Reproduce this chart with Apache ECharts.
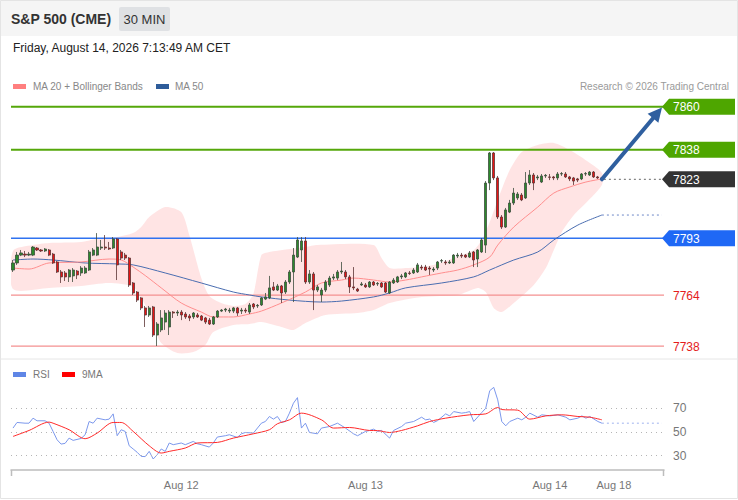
<!DOCTYPE html>
<html>
<head>
<meta charset="utf-8">
<script src="https://cdn.jsdelivr.net/npm/echarts@6/dist/echarts.min.js"></script>
<style>
html,body{margin:0;padding:0;background:#fff;}
#chart{width:738px;height:500px;}
</style>
</head>
<body>
<div id="chart"></div>
<script>
// ---------- DATA ----------
const slotCount = 163; // 30-minute slots incl. empty future area
const dateLabelIndex = [42, 88, 134, 150];
const dateLabelText = ['Aug 12', 'Aug 13', 'Aug 14', 'Aug 18'];

const openP = [7776.8,7780.4,7784.4,7784.9,7784.4,7784.4,7788.0,7787.0,7786.5,7787.0,
7784.9,7780.9,7775.8,7775.3,7773.3,7773.8,7776.3,7775.3,7775.3,7776.8,
7784.4,7784.4,7788.0,7788.5,7788.0,7788.0,7792.6,7786.0,7784.4,7782.9,
7770.2,7765.6,7762.6,7757.5,7753.9,7758.0,7743.7,7746.3,7750.3,7747.8,
7755.4,7754.9,7755.4,7754.4,7753.4,7752.9,7753.9,7753.4,7752.4,7751.3,
7749.3,7752.9,7755.9,7756.4,7755.9,7755.9,7757.5,7755.9,7756.4,7755.4,
7759.5,7758.5,7759.0,7762.0,7762.6,7768.2,7766.6,7768.7,7765.6,7770.7,
7775.8,7783.4,7787.0,7791.6,7770.7,7774.8,7766.6,7764.1,7766.6,7769.2,
7772.7,7772.7,7775.8,7775.8,7773.3,7768.2,7767.1,7769.2,7769.2,7768.2,
7770.7,7769.7,7770.2,7770.2,7765.1,7770.2,7770.7,7773.3,7773.3,7775.3,
7775.3,7775.8,7778.3,7778.3,7777.8,7776.8,7777.8,7781.4,7780.9,7780.4,
7780.4,7783.9,7784.4,7784.4,7783.4,7786.0,7782.4,7786.0,7789.5,7821.1,
7836.4,7823.7,7803.8,7798.7,7806.3,7810.9,7813.5,7815.0,7813.5,7821.1,
7825.2,7823.7,7821.6,7824.7,7824.2,7824.2,7823.7,7825.7,7825.7,7824.2,
7823.7,7823.2,7823.2,7825.7,7825.2,7826.7,7824.2,7823.7];
const closeP = [7780.4,7784.4,7785.5,7784.4,7784.9,7788.5,7787.0,7786.5,7787.5,7784.4,
7780.4,7775.8,7773.3,7773.3,7776.8,7776.8,7774.3,7777.8,7777.8,7786.0,
7787.0,7788.5,7788.5,7788.0,7787.5,7792.6,7779.4,7782.9,7782.9,7769.2,
7765.1,7761.5,7757.5,7753.9,7757.5,7743.7,7749.3,7752.4,7754.9,7755.4,
7754.9,7755.4,7753.9,7752.9,7752.4,7754.9,7752.9,7751.3,7750.3,7749.3,
7752.9,7755.9,7756.4,7756.9,7756.4,7757.5,7754.9,7756.4,7755.9,7759.0,
7758.0,7758.8,7762.6,7763.1,7767.7,7766.6,7768.7,7765.1,7770.7,7775.8,
7784.4,7792.1,7791.6,7770.7,7774.8,7766.6,7768.2,7766.6,7770.7,7772.7,
7773.3,7775.8,7776.3,7773.3,7768.2,7767.7,7766.1,7769.7,7768.2,7770.7,
7769.2,7770.0,7768.2,7765.6,7770.7,7771.7,7773.3,7773.8,7775.3,7775.0,
7776.8,7779.4,7777.8,7776.8,7777.3,7777.3,7780.9,7781.6,7780.4,7780.9,
7784.4,7784.4,7783.9,7783.4,7785.5,7781.9,7787.0,7792.1,7821.1,7836.4,
7823.7,7803.8,7798.7,7807.4,7810.9,7816.0,7815.5,7812.5,7821.1,7825.2,
7821.1,7824.2,7824.7,7825.0,7824.0,7823.7,7825.7,7825.9,7824.2,7823.2,
7822.1,7822.6,7825.7,7825.9,7826.7,7824.2,7823.7,7823.0];
const highP = [7781.9,7786.0,7787.0,7786.5,7786.0,7789.0,7788.5,7787.5,7788.0,7787.5,
7785.5,7781.4,7776.8,7776.3,7777.3,7777.8,7776.8,7778.8,7778.8,7787.0,
7788.0,7795.6,7792.1,7794.6,7791.1,7793.6,7793.1,7787.0,7785.5,7783.4,
7770.7,7766.1,7763.1,7758.5,7758.5,7758.5,7750.3,7756.4,7756.4,7756.4,
7755.9,7756.4,7756.4,7755.4,7754.4,7755.4,7754.9,7753.9,7752.9,7752.4,
7753.4,7756.4,7756.9,7757.5,7757.5,7758.0,7758.0,7757.5,7757.5,7760.0,
7760.0,7759.5,7763.1,7765.1,7773.8,7770.7,7769.7,7769.2,7771.7,7776.8,
7788.0,7793.6,7793.6,7793.6,7776.8,7775.8,7769.2,7767.7,7771.7,7773.8,
7774.8,7776.8,7780.9,7776.8,7774.3,7778.3,7767.7,7770.7,7770.2,7771.2,
7771.2,7770.7,7770.7,7770.7,7771.2,7772.7,7773.8,7774.8,7775.8,7776.3,
7777.8,7780.4,7779.4,7779.4,7778.8,7778.3,7781.4,7782.4,7781.9,7781.9,
7784.9,7785.5,7785.5,7784.9,7786.5,7786.5,7787.5,7793.1,7822.1,7836.9,
7836.9,7824.7,7804.8,7808.4,7812.5,7818.6,7816.5,7816.0,7826.7,7827.7,
7826.2,7825.2,7825.7,7825.7,7825.7,7824.7,7826.7,7826.7,7826.7,7824.7,
7824.2,7823.7,7826.2,7826.7,7827.2,7827.2,7824.7,7824.2];
const lowP = [7775.8,7779.4,7783.9,7783.4,7783.9,7783.9,7786.5,7786.0,7786.0,7783.9,
7779.9,7775.3,7770.2,7771.2,7770.7,7770.7,7772.2,7773.8,7774.8,7776.3,
7783.9,7783.9,7787.0,7787.0,7787.0,7787.5,7771.7,7781.9,7781.9,7768.2,
7764.1,7760.5,7756.4,7747.8,7752.9,7742.7,7738.1,7745.2,7746.3,7743.7,
7752.4,7753.4,7751.3,7751.9,7750.8,7751.9,7752.4,7750.8,7749.3,7748.8,
7748.8,7752.4,7755.4,7755.4,7754.9,7754.9,7753.4,7754.4,7754.9,7754.4,
7756.9,7757.5,7758.5,7761.5,7762.0,7766.1,7766.1,7760.0,7764.6,7769.7,
7760.5,7782.9,7780.9,7769.7,7769.7,7756.4,7765.6,7760.5,7765.6,7768.2,
7771.7,7771.7,7774.8,7772.2,7765.1,7766.6,7765.6,7768.7,7767.7,7767.7,
7768.7,7768.7,7767.7,7765.1,7764.6,7769.7,7770.2,7772.2,7772.7,7774.3,
7774.8,7775.3,7776.8,7776.3,7774.3,7775.8,7776.8,7780.4,7779.4,7779.9,
7779.9,7782.9,7782.9,7782.9,7782.9,7778.3,7778.3,7785.5,7785.5,7817.5,
7822.6,7802.8,7797.7,7798.2,7805.8,7809.9,7812.5,7811.9,7813.0,7820.1,
7817.5,7822.6,7821.1,7823.7,7822.6,7822.6,7822.6,7824.7,7823.7,7822.1,
7820.1,7821.6,7822.6,7824.7,7824.7,7823.7,7823.2,7822.6];

// moving averages and Bollinger bands: [slot index, price]
const ma20 = [[0,7777.8],[4,7777.3],[9,7780.4],[17,7780.9],[24,7782.4],[27,7781.9],[30,7778.3],[33,7774.0],[37,7767.7],[42,7760.0],[47,7755.4],[50,7752.9],[55,7752.9],[59,7754.4],[62,7755.9],[67,7760.0],[73,7765.6],[77,7770.2],[82,7771.7],[85,7772.7],[90,7771.7],[94,7770.7],[98,7771.7],[102,7773.3],[107,7775.3],[111,7776.8],[115,7779.4],[119,7783.4],[121,7789.5],[125,7798.7],[131,7808.9],[135,7816.0],[139,7819.1],[143,7821.6],[147,7823.2]];
const ma50 = [[0,7781.9],[5,7782.4],[10,7781.9],[18,7780.4],[26,7779.9],[30,7779.4],[38,7775.3],[47,7770.2],[55,7765.6],[59,7764.1],[62,7763.1],[69,7761.5],[77,7760.5],[82,7761.0],[90,7763.1],[94,7765.1],[98,7767.7],[107,7770.2],[115,7773.3],[119,7776.8],[125,7781.9],[131,7786.0],[135,7792.1],[141,7799.7],[147,7804.8]];
const bbUpper = [[0,7786.5],[5,7789.5],[9,7790.6],[17,7791.1],[22,7793.1],[26,7793.6],[30,7795.6],[32,7798.7],[34,7803.8],[38,7808.9],[42,7806.3],[44,7794.6],[47,7772.7],[49,7763.6],[52,7760.0],[55,7758.5],[58,7759.5],[60,7764.6],[62,7784.4],[64,7786.0],[73,7788.5],[76,7789.5],[90,7789.5],[92,7782.9],[94,7777.8],[98,7777.8],[105,7779.4],[110,7782.9],[115,7787.0],[117,7792.1],[119,7801.3],[121,7812.5],[124,7827.7],[127,7836.9],[131,7840.5],[135,7841.5],[139,7837.9],[144,7831.3],[147,7826.2]];
const bbLower = [[0,7767.1],[9,7767.7],[17,7768.7],[24,7770.2],[30,7768.2],[33,7759.0],[35,7748.8],[37,7739.6],[41,7734.5],[45,7735.0],[48,7738.6],[50,7745.2],[55,7748.8],[59,7749.3],[62,7750.3],[67,7747.8],[70,7746.3],[73,7749.8],[78,7753.9],[86,7754.9],[90,7756.4],[94,7760.0],[102,7763.1],[111,7764.1],[116,7767.7],[118,7765.6],[120,7757.5],[122,7755.4],[125,7760.0],[130,7769.2],[133,7777.8],[135,7787.0],[137,7796.2],[140,7804.8],[143,7810.9],[147,7820.1]];

// key levels
const levelPrices = [7860, 7838, 7823, 7793, 7764, 7738];
const levelKinds = ['resistance', 'resistance', 'last', 'pivot', 'support', 'support'];
// target arrow: [slot index, price]
const arrowFrom = [147, 7823];
const arrowTo = [161.5, 7859.5];

// RSI and its 9-period MA: [slot index, value]
const rsi = [[0,53.1],[1,57.8],[3,57.2],[4,57.2],[5,61.4],[6,59.2],[8,59.2],[9,57.2],[10,50.3],[11,43.3],[12,39.7],[13,40.3],[14,44.7],[15,42.8],[17,44.4],[18,47.5],[19,58.6],[20,57.2],[21,61.4],[23,60.0],[24,60.6],[25,65.0],[26,46.7],[27,51.7],[28,50.3],[29,38.3],[30,35.6],[31,32.8],[32,29.4],[33,29.2],[34,33.6],[35,27.2],[36,30.8],[37,35.6],[38,33.6],[39,40.6],[40,39.2],[42,40.6],[43,39.2],[45,41.9],[46,40.0],[47,39.2],[49,37.2],[50,40.6],[51,45.6],[53,46.7],[54,47.5],[56,45.3],[57,48.3],[58,49.4],[60,48.9],[62,57.2],[63,58.6],[64,62.8],[65,60.6],[66,62.8],[67,57.8],[68,58.6],[69,65.6],[70,73.9],[71,78.6],[72,53.1],[73,57.2],[74,49.4],[76,48.3],[77,53.1],[79,54.4],[81,57.2],[83,53.1],[85,48.3],[86,46.7],[88,50.3],[89,51.1],[90,52.2],[91,50.3],[92,51.1],[94,44.7],[95,51.1],[97,54.4],[98,57.2],[100,58.6],[102,62.2],[103,60.0],[104,60.6],[105,57.8],[106,59.4],[108,65.0],[109,63.3],[110,66.9],[112,65.6],[113,66.1],[114,66.9],[115,58.6],[117,66.1],[118,69.7],[119,84.4],[120,87.2],[121,76.7],[122,58.6],[123,55.0],[124,58.6],[126,61.4],[127,60.0],[128,62.2],[129,65.6],[131,62.2],[132,64.2],[134,63.3],[136,64.2],[138,62.2],[139,60.0],[141,61.4],[142,63.3],[143,61.4],[144,62.8],[146,58.6],[147,57.2]];
const rsiMa9 = [[0,46.1],[4,51.1],[9,58.1],[10,57.2],[14,51.7],[18,44.2],[21,48.9],[25,57.8],[27,57.8],[30,50.3],[34,38.3],[37,32.2],[39,33.6],[43,36.4],[46,40.6],[51,41.1],[55,44.7],[60,48.3],[64,51.7],[66,56.7],[69,60.0],[72,65.6],[77,60.0],[80,53.1],[84,53.6],[89,51.1],[91,51.0],[94,49.4],[97,51.1],[101,55.0],[104,58.6],[108,61.4],[114,64.2],[118,65.0],[121,70.3],[122,68.6],[126,68.1],[129,60.6],[133,63.3],[137,64.2],[141,62.8],[144,62.2],[147,60.0]];
const rsiLevels = [70, 50, 30];

// ---------- CHART ----------
const FONT = '"Liberation Sans", Arial, sans-serif';
const lastIdx = closeP.length - 1;
const categories = Array.from({length: slotCount}, (_, i) => 's' + i);
const candleData = openP.map((o, i) => [o, closeP[i], lowP[i], highP[i]]);

const levelStyle = {
  resistance: {line: '#55a70a', w: 2, tag: '#4ea600'},
  last: {line: '#666', w: 1, dash: [2, 3], tag: '#333333'},
  pivot: {line: '#2f72f0', w: 1.5, tag: '#1f68f5'},
  support: {line: '#f49090', w: 1.2, text: '#e41c1c'}
};

const chart = echarts.init(document.getElementById('chart'), null, {renderer: 'svg'});

const option = {
  animation: false,
  backgroundColor: '#ffffff',
  textStyle: {fontFamily: FONT},
  grid: [
    {left: 11, top: 87, width: 653, height: 271, outerBoundsMode: 'none', containLabel: false},
    {left: 11, top: 384, width: 653, height: 86, outerBoundsMode: 'none', containLabel: false}
  ],
  xAxis: [
    {type: 'category', gridIndex: 0, data: categories, boundaryGap: true, show: false},
    {type: 'category', gridIndex: 1, data: categories, boundaryGap: true,
      axisLine: {show: true, lineStyle: {color: '#bdbdbd', width: 1.5}},
      axisTick: {show: false},
      splitLine: {show: false},
      axisLabel: {interval: 0, color: '#777', fontSize: 11, fontFamily: FONT, margin: 9,
        formatter: (v, i) => { const k = dateLabelIndex.indexOf(i); return k >= 0 ? dateLabelText[k] : ''; }}
    }
  ],
  yAxis: [
    {type: 'value', gridIndex: 0, min: 7732, max: 7870, show: false, splitLine: {show: false}},
    {type: 'value', gridIndex: 1, min: 18, max: 90, show: false, splitLine: {show: false}}
  ],
  graphic: [
    {type: 'rect', shape: {x: 0, y: 0, width: 738, height: 36}, style: {fill: '#f5f5f5'}, z: -10, silent: true},
    {type: 'rect', shape: {x: 0.5, y: 0.5, width: 737, height: 498}, style: {fill: 'none', stroke: '#e4e4e4', lineWidth: 1}, z: -9, silent: true},
    {type: 'line', shape: {x1: 0, y1: 359, x2: 738, y2: 359}, style: {stroke: '#e6e6e6', lineWidth: 1}, silent: true},
    {type: 'text', style: {text: 'S&P 500 (CME)', x: 11, y: 19, verticalAlign: 'middle', fill: '#333', font: 'bold 14px ' + FONT}},
    {type: 'rect', shape: {x: 119, y: 7, width: 51, height: 24, r: 2}, style: {fill: '#dfe1e4'}},
    {type: 'text', style: {text: '30 MIN', x: 144.5, y: 19, align: 'center', verticalAlign: 'middle', fill: '#333', font: '13px ' + FONT}},
    {type: 'text', style: {text: 'Friday, August 14, 2026 7:13:49 AM CET', x: 13, y: 48, verticalAlign: 'middle', fill: '#222', font: '12px ' + FONT}},
    {type: 'rect', shape: {x: 13, y: 84, width: 13, height: 5}, style: {fill: '#ff7f7f'}},
    {type: 'text', style: {text: 'MA 20 + Bollinger Bands', x: 33, y: 86.5, verticalAlign: 'middle', fill: '#888', font: '10px ' + FONT}},
    {type: 'rect', shape: {x: 156, y: 84, width: 13, height: 5}, style: {fill: '#2e5c9a'}},
    {type: 'text', style: {text: 'MA 50', x: 175, y: 86.5, verticalAlign: 'middle', fill: '#888', font: '10px ' + FONT}},
    {type: 'text', style: {text: 'Research \u00a9 2026 Trading Central', x: 729, y: 86.5, align: 'right', verticalAlign: 'middle', fill: '#9a9a9a', font: '10px ' + FONT}},
    {type: 'rect', shape: {x: 13, y: 372, width: 13, height: 5}, style: {fill: '#5f86e6'}},
    {type: 'text', style: {text: 'RSI', x: 33, y: 374.5, verticalAlign: 'middle', fill: '#777', font: '10px ' + FONT}},
    {type: 'rect', shape: {x: 62, y: 372, width: 13, height: 5}, style: {fill: '#ff0000'}},
    {type: 'text', style: {text: '9MA', x: 82, y: 374.5, verticalAlign: 'middle', fill: '#777', font: '10px ' + FONT}},
    {type: 'line', shape: {x1: 11.5, y1: 470, x2: 11.5, y2: 476}, style: {stroke: '#bdbdbd', lineWidth: 1.5}},
    {type: 'line', shape: {x1: 663.5, y1: 470, x2: 663.5, y2: 476}, style: {stroke: '#bdbdbd', lineWidth: 1.5}}
  ],
  series: [
    // Bollinger band fill
    {
      type: 'custom', name: 'Bollinger', xAxisIndex: 0, yAxisIndex: 0, z: 1, silent: true, clip: true,
      data: [[0, 7800]],
      renderItem: (params, api) => {
        const up = bbUpper.map(p => api.coord(p));
        const lo = bbLower.map(p => api.coord(p)).reverse();
        return {type: 'polygon', shape: {points: up.concat(lo), smooth: 0.25},
          style: {fill: 'rgba(255,110,110,0.19)'}};
      }
    },
    // level lines + tags
    {
      type: 'custom', name: 'Levels', xAxisIndex: 0, yAxisIndex: 0, z: 2, silent: true, clip: false,
      data: levelPrices.map(p => [0, p]),
      renderItem: (params, api) => {
        const price = api.value(1);
        const kind = levelKinds[params.dataIndex];
        const s = levelStyle[kind];
        const cs = params.coordSys;
        const y = api.coord([0, price])[1];
        const x0 = kind === 'last' ? api.coord([lastIdx, price])[0] + 2 : cs.x;
        const x1 = cs.x + cs.width;
        const children = [{type: 'line', shape: {x1: x0, y1: y, x2: x1, y2: y},
          style: {stroke: s.line, lineWidth: s.w, lineDash: s.dash || null}}];
        if (s.tag) {
          children.push({type: 'polygon', shape: {points: [[x1 - 2, y], [x1 + 5, y - 8], [x1 + 71, y - 8], [x1 + 71, y + 8], [x1 + 5, y + 8]]},
            style: {fill: s.tag}});
          children.push({type: 'text', style: {text: String(price), x: x1 + 9, y: y + 0.5, verticalAlign: 'middle', fill: '#fff', font: '12px ' + FONT}});
        } else {
          children.push({type: 'text', style: {text: String(price), x: x1 + 9, y: y + 0.5, verticalAlign: 'middle', fill: s.text, font: '12px ' + FONT}});
        }
        return {type: 'group', children: children};
      }
    },
    {
      type: 'line', name: 'MA 50', xAxisIndex: 0, yAxisIndex: 0, z: 3, data: ma50, smooth: 0.3,
      showSymbol: false, silent: true, lineStyle: {color: '#4a6db0', width: 1}
    },
    {
      type: 'line', name: 'MA 50 ext', xAxisIndex: 0, yAxisIndex: 0, z: 3,
      data: [ma50[ma50.length - 1], [slotCount - 1, ma50[ma50.length - 1][1]]],
      showSymbol: false, silent: true, lineStyle: {color: '#6d88c8', width: 1, type: [2, 3]}
    },
    {
      type: 'line', name: 'MA 20', xAxisIndex: 0, yAxisIndex: 0, z: 3, data: ma20, smooth: 0.3,
      showSymbol: false, silent: true, lineStyle: {color: '#ff8e8e', width: 1}
    },
    {
      type: 'candlestick', name: 'S&P 500', xAxisIndex: 0, yAxisIndex: 0, z: 4, data: candleData,
      barWidth: 2.6, silent: true,
      itemStyle: {color: '#2c8a2c', color0: '#e81414', borderColor: '#3d4d3d', borderColor0: '#5c3535', borderWidth: 0.8}
    },
    // target arrow
    {
      type: 'custom', name: 'Arrow', xAxisIndex: 0, yAxisIndex: 0, z: 6, silent: true, clip: false,
      data: [[arrowTo[0], arrowTo[1]]],
      renderItem: (params, api) => {
        const p0 = api.coord(arrowFrom);
        const p1 = api.coord(arrowTo);
        const dx = p1[0] - p0[0], dy = p1[1] - p0[1];
        const len = Math.sqrt(dx * dx + dy * dy);
        const ux = dx / len, uy = dy / len;
        const hl = 14, hw = 7;
        const bx = p1[0] - ux * hl, by = p1[1] - uy * hl;
        return {type: 'group', children: [
          {type: 'line', shape: {x1: p0[0], y1: p0[1], x2: bx + ux * 2, y2: by + uy * 2},
            style: {stroke: '#2f5f9f', lineWidth: 4, lineCap: 'round'}},
          {type: 'polygon', shape: {points: [[p1[0], p1[1]], [bx - uy * hw, by + ux * hw], [bx + uy * hw, by - ux * hw]]},
            style: {fill: '#2f5f9f'}}
        ]};
      }
    },
    // RSI panel
    {
      type: 'line', name: 'RSI', xAxisIndex: 1, yAxisIndex: 1, z: 3, data: rsi,
      showSymbol: false, silent: true, lineStyle: {color: '#7c98ec', width: 1},
      markLine: {
        silent: true, symbol: 'none',
        lineStyle: {type: [1, 4], color: '#b5b5b5', width: 1},
        label: {position: 'end', distance: 9, color: '#777', fontSize: 12, fontFamily: FONT, formatter: p => String(p.value)},
        data: rsiLevels.map(v => ({yAxis: v}))
      }
    },
    {
      type: 'line', name: 'RSI ext', xAxisIndex: 1, yAxisIndex: 1, z: 3,
      data: [rsi[rsi.length - 1], [slotCount - 1, rsi[rsi.length - 1][1]]],
      showSymbol: false, silent: true, lineStyle: {color: '#9fb3ef', width: 1, type: [2, 3]}
    },
    {
      type: 'line', name: '9MA', xAxisIndex: 1, yAxisIndex: 1, z: 4, data: rsiMa9, smooth: 0.3,
      showSymbol: false, silent: true, lineStyle: {color: '#ff2a2a', width: 1}
    }
  ]
};
chart.setOption(option);
</script>
</body>
</html>
